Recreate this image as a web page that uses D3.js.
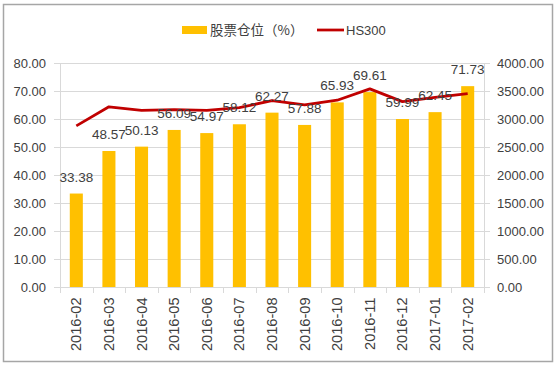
<!DOCTYPE html>
<html><head><meta charset="utf-8">
<script src="https://cdn.jsdelivr.net/npm/d3@7"></script>
<style>body{margin:0;background:#fff}svg{display:block}text{font-family:"Liberation Sans",Arial,sans-serif}</style>
</head><body>
<svg id="c" width="558" height="366"></svg>
<script>
const categories = ["2016-02","2016-03","2016-04","2016-05","2016-06","2016-07","2016-08","2016-09","2016-10","2016-11","2016-12","2017-01","2017-02"];
const stockPosition = [33.38,48.57,50.13,56.09,54.97,58.12,62.27,57.88,65.93,69.61,59.99,62.45,71.73];
const hs300 = [2877,3218,3156,3169,3154,3203,3327,3253,3336,3538,3310,3387,3452];
const leftTicks = [0,10,20,30,40,50,60,70,80];
const rightTicks = [0,500,1000,1500,2000,2500,3000,3500,4000];
const seriesNames = ["股票仓位（%）","HS300"];

const svg = d3.select("#c");
const L = 60, R = 484, T = 63, B = 287;
const txt = "#404040";

svg.append("rect").attr("x",3.5).attr("y",4.5).attr("width",549).attr("height",357)
  .attr("fill","none").attr("stroke","#a6a6a6").attr("stroke-width",1.5);

const x = d3.scaleBand().domain(categories).range([L,R]).paddingInner(0.6).paddingOuter(0.3);
const xb = d3.scaleBand().domain(categories).range([L,R]);
const yL = d3.scaleLinear().domain([0,80]).range([B,T]);
const yR = d3.scaleLinear().domain([0,4000]).range([B,T]);

// gridlines
svg.append("g").selectAll("line").data(leftTicks).join("line")
  .attr("x1",L-6).attr("x2",R).attr("y1",d=>Math.round(yL(d))+0.5).attr("y2",d=>Math.round(yL(d))+0.5)
  .attr("stroke","#d9d9d9");
svg.append("line").attr("x1",L+0.5).attr("x2",L+0.5).attr("y1",T).attr("y2",B).attr("stroke","#d9d9d9");
svg.append("line").attr("x1",R+0.5).attr("x2",R+0.5).attr("y1",T).attr("y2",B).attr("stroke","#d9d9d9");
svg.append("g").selectAll("line").data(rightTicks).join("line")
  .attr("x1",R).attr("x2",R+6).attr("y1",d=>Math.round(yR(d))+0.5).attr("y2",d=>Math.round(yR(d))+0.5)
  .attr("stroke","#d9d9d9");
svg.append("g").selectAll("line").data(categories.concat([null])).join("line")
  .attr("x1",(d,i)=>Math.round(L+i*xb.step())+0.5).attr("x2",(d,i)=>Math.round(L+i*xb.step())+0.5)
  .attr("y1",B).attr("y2",B+6).attr("stroke","#d9d9d9");

svg.append("g").selectAll("text").data(leftTicks).join("text")
  .attr("x",46).attr("y",d=>yL(d)).attr("dy","0.35em").attr("text-anchor","end")
  .attr("font-size",13).attr("fill",txt).text(d=>d.toFixed(2));
svg.append("g").selectAll("text").data(rightTicks).join("text")
  .attr("x",497).attr("y",d=>yR(d)).attr("dy","0.35em").attr("text-anchor","start")
  .attr("font-size",13).attr("fill",txt).text(d=>d.toFixed(2));
svg.append("g").selectAll("text").data(categories).join("text")
  .attr("transform",d=>`translate(${xb(d)+xb.bandwidth()/2+5},297.5) rotate(-90)`)
  .attr("text-anchor","end").attr("font-size",14.6).attr("fill",txt).text(d=>d);

svg.append("g").selectAll("rect").data(stockPosition).join("rect")
  .attr("x",(d,i)=>x(categories[i])).attr("width",x.bandwidth())
  .attr("y",d=>yL(d)).attr("height",d=>B-yL(d)).attr("fill","#FFC000");

const line = d3.line().x((d,i)=>xb(categories[i])+xb.bandwidth()/2).y(d=>yR(d));
svg.append("path").datum(hs300).attr("d",line).attr("fill","none")
  .attr("stroke","#C00000").attr("stroke-width",2.75).attr("stroke-linejoin","round");

svg.append("g").selectAll("text").data(stockPosition).join("text")
  .attr("x",(d,i)=>xb(categories[i])+xb.bandwidth()/2).attr("y",d=>yL(d)-12)
  .attr("text-anchor","middle").attr("font-size",13.5).attr("fill",txt).text(d=>d.toFixed(2));

const lg = svg.append("g");
lg.append("rect").attr("x",182).attr("y",26).attr("width",25).attr("height",8).attr("fill","#FFC000");
lg.append("text").attr("x",210).attr("y",30).attr("dy","0.35em").attr("font-size",13.5).attr("fill",txt)
  .style("font-family","'Noto Sans CJK SC',sans-serif").text(seriesNames[0]);
lg.append("line").attr("x1",317).attr("x2",344).attr("y1",30).attr("y2",30).attr("stroke","#C00000").attr("stroke-width",2.75);
lg.append("text").attr("x",346).attr("y",30).attr("dy","0.35em").attr("font-size",13).attr("fill",txt).text(seriesNames[1]);
</script>
</body></html>
